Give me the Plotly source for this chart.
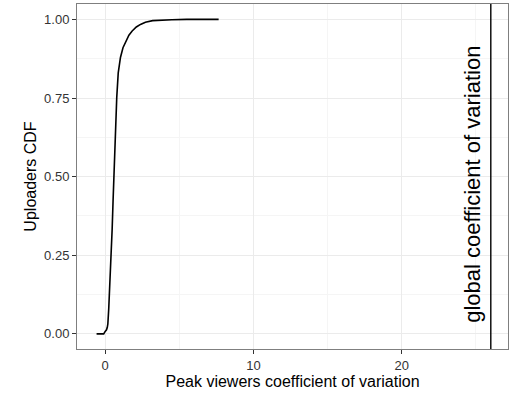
import plotly.graph_objects as go

# CDF of peak viewers coefficient of variation
cv_values = [-0.58, -0.1, 0.0, 0.09, 0.14, 0.18, 0.24, 0.29, 0.35, 0.40, 0.47, 0.53,
             0.58, 0.64, 0.70, 0.78, 0.88, 1.03, 1.2, 1.41, 1.6, 1.82, 2.1, 2.38,
             2.71, 3.2, 3.8, 4.5, 5.5, 6.5, 7.65]
cdf_values = [0.0, 0.0, 0.008, 0.013, 0.02, 0.032, 0.08, 0.127, 0.19, 0.249, 0.333, 0.42,
              0.5, 0.59, 0.67, 0.752, 0.83, 0.879, 0.91, 0.931, 0.95, 0.963, 0.976, 0.984,
              0.991, 0.996, 0.998, 0.999, 1.0, 1.0, 1.0]
global_cv = 26.0
global_label = "global coefficient of variation"
label_y = 0.475

x_ticks = [0, 10, 20]
y_ticks = [0.0, 0.25, 0.5, 0.75, 1.0]
y_tick_text = ["0.00", "0.25", "0.50", "0.75", "1.00"]

fig = go.Figure()
fig.add_trace(go.Scatter(x=cv_values, y=cdf_values, mode="lines",
                         line=dict(color="black", width=1.6), showlegend=False,
                         hoverinfo="skip"))

fig.add_shape(type="line", x0=global_cv, x1=global_cv, y0=0, y1=1,
              xref="x", yref="paper", line=dict(color="black", width=1.4))

fig.add_annotation(x=global_cv, y=label_y, xref="x", yref="y", text=global_label,
                   textangle=-90, showarrow=False, xanchor="right", yanchor="middle",
                   xshift=-4, font=dict(family="Liberation Sans, Arial", size=22, color="black"))

axis_common = dict(
    showgrid=True, gridcolor="#EBEBEB", gridwidth=1.2,
    minor=dict(showgrid=True, gridcolor="#F5F5F5", gridwidth=1),
    showline=True, linecolor="#7F7F7F", linewidth=1, mirror=True,
    ticks="outside", ticklen=4, tickwidth=1, tickcolor="#333333",
    zeroline=False,
    tickfont=dict(family="Liberation Sans, Arial", size=13, color="#333333"),
)

fig.update_xaxes(range=[-1.9, 27.16], tickvals=x_ticks,
                 minor_tickvals=[-5, 5, 15, 25],
                 title=dict(text="Peak viewers coefficient of variation", standoff=3,
                            font=dict(family="Liberation Sans, Arial", size=16, color="black")),
                 **axis_common)
fig.update_yaxes(range=[-0.048, 1.049], tickvals=y_ticks, ticktext=y_tick_text,
                 minor_tickvals=[0.125, 0.375, 0.625, 0.875],
                 title=dict(text="Uploaders CDF", standoff=3,
                            font=dict(family="Liberation Sans, Arial", size=16, color="black")),
                 **axis_common)

fig.update_layout(width=510, height=399, margin=dict(l=77, r=2, t=4, b=50),
                  plot_bgcolor="white", paper_bgcolor="white")

fig.write_html("out.html")
